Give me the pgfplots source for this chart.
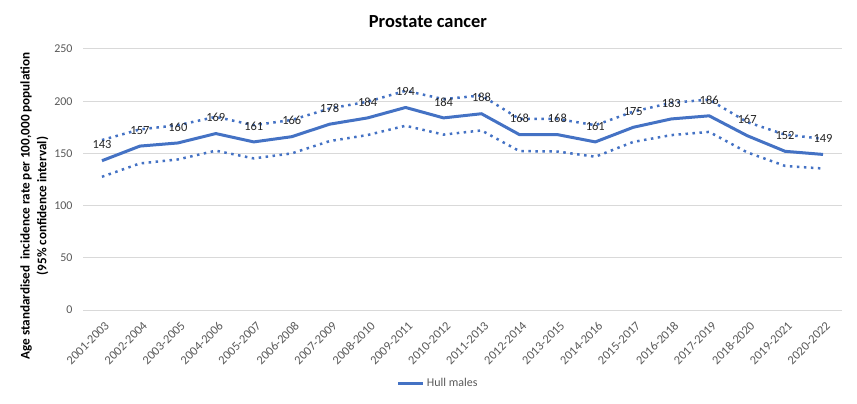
\documentclass[border=0pt]{standalone}
\usepackage{pgfplots}
\pgfplotsset{compat=1.18}
\usepackage{fontspec}
\setmainfont{Carlito}
\definecolor{xlblue}{HTML}{4472C4}
\definecolor{tickgrey}{HTML}{595959}
\definecolor{gridgrey}{HTML}{D9D9D9}
\begin{document}
\begin{tikzpicture}
\useasboundingbox (0,0) rectangle (857bp,404bp);
\begin{axis}[
    at={(83bp,94bp)}, anchor=south west,
    width=759bp, height=261bp, scale only axis,
    xmin=-0.5, xmax=19.5,
    ymin=0, ymax=250,
    ytick={0,50,...,250},
    xtick={0,...,19},
    xticklabels={2001-2003,2002-2004,2003-2005,2004-2006,2005-2007,2006-2008,2007-2009,2008-2010,2009-2011,2010-2012,2011-2013,2012-2014,2013-2015,2014-2016,2015-2017,2016-2018,2017-2019,2018-2020,2019-2021,2020-2022},
    axis line style={draw=none},
    major tick length=0pt,
    ymajorgrids=true,
    grid style={gridgrey, line width=1bp},
    /pgf/number format/assume math mode=true,
    ticklabel style={font=\fontsize{12}{14}\selectfont, text=tickgrey},
    yticklabel style={xshift=-7bp},
    xticklabel style={rotate=45, anchor=north east, inner sep=0pt, font=\fontsize{12.5}{14}\selectfont, xshift=-6bp, yshift=-9bp},
    title={Prostate cancer},
    title style={at={(axis description cs:0.4545,1.083)}, anchor=center, font=\fontsize{18.5}{21}\selectfont\bfseries},
    ylabel={Age standardised\ \ incidence rate per 100,000 population\\(95\% confidence interval)},
    ylabel style={at={(axis description cs:-0.064,0.398)}, anchor=center, align=center, font=\fontsize{13.2}{16.8}\selectfont\bfseries},
    legend style={at={(axis description cs:0.468,-0.28)}, anchor=center, draw=none, fill=none, font=\fontsize{12}{14}\selectfont, text=tickgrey},
    legend image code/.code={\draw[#1, line width=3bp] (0bp,0bp) -- (25bp,0bp);},
]
% upper 95% CI
\addplot[xlblue, line width=2.5bp, dash pattern=on 2.5bp off 4.5bp, forget plot] coordinates {
(0,162.8) (1,173) (2,177) (3,185) (4,177) (5,182) (6,193) (7,199.5) (8,210) (9,202)
(10,205.5) (11,183) (12,183) (13,177) (14,190) (15,198.5) (16,201.5) (17,180) (18,168) (19,164)
};
% lower 95% CI
\addplot[xlblue, line width=2.5bp, dash pattern=on 2.5bp off 4.5bp, forget plot] coordinates {
(0,127.6) (1,140.4) (2,144.2) (3,152.6) (4,145.2) (5,150) (6,161.8) (7,167.6) (8,176.5) (9,168)
(10,172) (11,152.2) (12,151.8) (13,146.8) (14,161) (15,167.5) (16,170.6) (17,151) (18,138) (19,135.5)
};
% rate
\addplot[xlblue, line width=3bp, line join=round,
    nodes near coords,
    every node near coord/.append style={anchor=center, yshift=16bp, inner sep=0pt, font=\fontsize{12.5}{14}\selectfont, text=black!85}]
coordinates {
(0,143) (1,157) (2,160) (3,169) (4,161) (5,166) (6,178) (7,184) (8,194) (9,184)
(10,188) (11,168) (12,168) (13,161) (14,175) (15,183) (16,186) (17,167) (18,152) (19,149)
};
\legend{Hull males}
\end{axis}
\end{tikzpicture}
\end{document}
